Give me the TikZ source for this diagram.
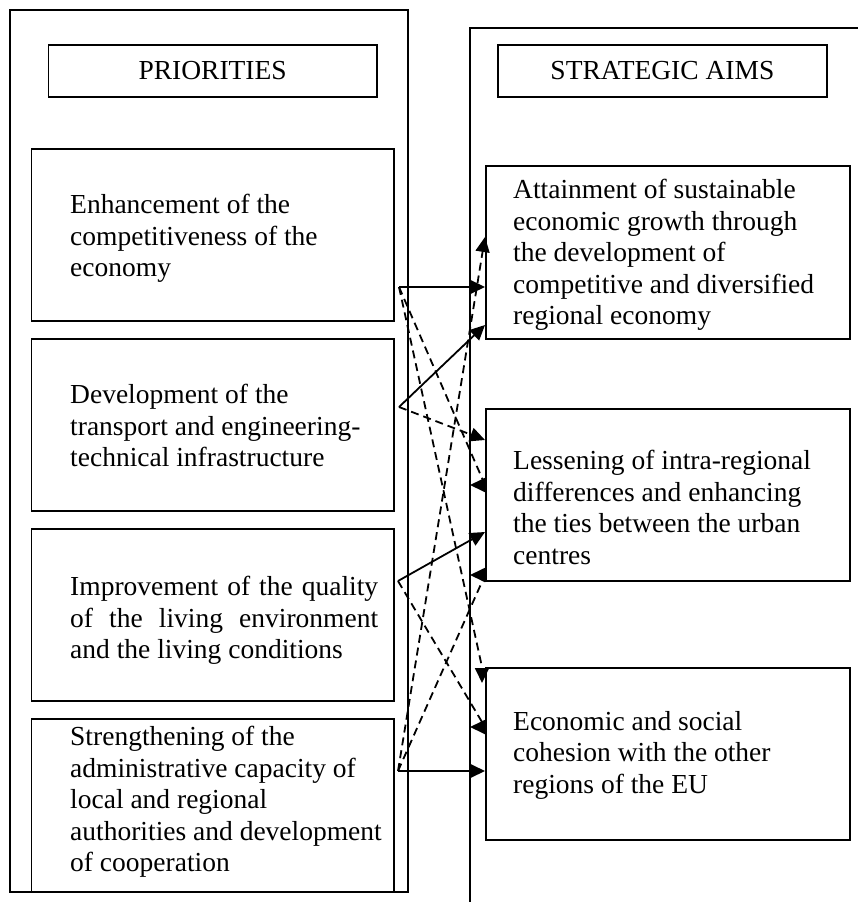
\documentclass[tikz,border=0pt]{standalone}
\usepackage{fontspec}
\setmainfont{Liberation Serif}
\usetikzlibrary{arrows.meta}
\begin{document}
\begin{tikzpicture}[x=1pt,y=-1pt,
  frame/.style={draw, line width=2pt},
  box/.style={draw, line width=1.8pt, inner sep=0pt, anchor=north west},
  txt/.style={anchor=north west, inner sep=0pt, align=left,
    font=\fontsize{27.5}{31.5}\selectfont},
  headtxt/.style={inner sep=0pt, font=\fontsize{27.5}{31.5}\selectfont},
  link/.style={line width=1.8pt, -{Triangle[length=15pt,width=14pt]}},
  solidlink/.style={link},
  dashlink/.style={link, dash pattern=on 8pt off 5pt},
]
\useasboundingbox (0,0) rectangle (858,902);

% column frames
\draw[frame] (10,10) rectangle (408,892);
\draw[frame] (858,28) -- (470,28) -- (470,902);

% headings
\node[box, minimum width=328.5pt, minimum height=52pt] (hPri) at (47.5,44) {};
\node[headtxt] (hPriT) at (hPri.center) {PRIORITIES};
\node[box, minimum width=329pt, minimum height=52pt] (hAim) at (497,44) {};
\node[headtxt] (hAimT) at (hAim.center) {STRATEGIC AIMS};

% priorities
\node[box, minimum width=362.5pt, minimum height=172pt] (enh) at (30.5,148) {};
\node[box, minimum width=362.5pt, minimum height=172pt] (dev) at (30.5,338) {};
\node[box, minimum width=362.5pt, minimum height=172pt] (imp) at (30.5,528) {};
\node[box, minimum width=362.5pt, minimum height=173pt] (str) at (30.5,718) {};

\node[txt] (enhT) at (70,194) {Enhancement of the\\competitiveness of the\\economy};
\node[txt] (devT) at (70,384) {Development of the\\transport and engineering-\\technical infrastructure};
\node[txt] (impT) at (70,576) {\makebox[308pt][s]{Improvement of the quality}\\\makebox[308pt][s]{of the living environment}\\and the living conditions};
\node[txt] (strT) at (70,726) {Strengthening of the\\administrative capacity of\\local and regional\\authorities and development\\of cooperation};

% strategic aims
\node[box, minimum width=364pt, minimum height=173pt] (att) at (485,165) {};
\node[box, minimum width=364pt, minimum height=172pt] (les) at (485,408) {};
\node[box, minimum width=364pt, minimum height=172pt] (eco) at (485,667) {};

\node[txt] (attT) at (513,179) {Attainment of sustainable\\economic growth through\\the development of\\competitive and diversified\\regional economy};
\node[txt] (lesT) at (513,450) {Lessening of intra-regional\\differences and enhancing\\the ties between the urban\\centres};
\node[txt] (ecoT) at (513,711) {Economic and social\\cohesion with the other\\regions of the EU};

% connector origins beside the priority boxes
\coordinate (pE) at (399,287);
\coordinate (pD) at (399,407);
\coordinate (pI) at (398,581);
\coordinate (pS) at (398,771);

% links to the first aim
\draw[solidlink] (pE) -- (pE -| att.west);
\draw[solidlink] (pD) -- (att.west |- 0,325);
\draw[dashlink] (pS) -- (att.west |- 0,237);

% links to the second aim
\draw[dashlink] (pD) -- (les.west |- 0,440);
\draw[dashlink] (pE) -- (les.west |- 0,485) -- ++(-15,0);
\draw[solidlink] (pI) -- (les.west |- 0,532);
\draw[dashlink] (pS) -- (les.west |- 0,575) -- ++(-15,0);

% links to the third aim
\draw[dashlink] (pE) -- ([xshift=-3pt]eco.north west) -- ++(0,16);
\draw[dashlink] (pI) -- (eco.west |- 0,727) -- ++(-15,0);
\draw[solidlink] (pS) -- (pS -| eco.west);
\end{tikzpicture}
\end{document}
